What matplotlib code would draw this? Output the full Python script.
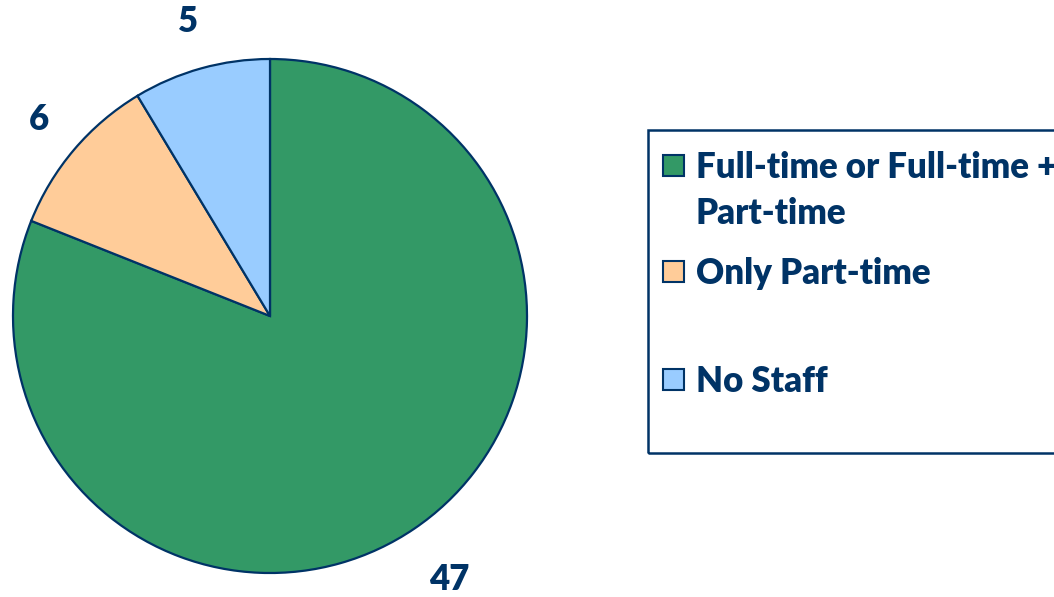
import numpy as np
import matplotlib.pyplot as plt
from matplotlib.patches import Rectangle

# staffing categories and counts
categories = ['Full-time or Full-time +\nPart-time', 'Only Part-time', 'No Staff']
counts = [47, 6, 5]
colors = ['#339966', '#FFCC99', '#99CCFF']
navy = '#003366'

W, H = 1054, 597
fig = plt.figure(figsize=(W / 100, H / 100), dpi=100)
plt.rcParams['font.family'] = ['Lato', 'DejaVu Sans']

# pie axes: centre (270, 316) px, radius 257 px
cx, cy, r = 270, 316, 257
ax = fig.add_axes([(cx - r) / W, (H - cy - r) / H, 2 * r / W, 2 * r / H])
total = sum(counts)
wedges, texts, autotexts = ax.pie(
    counts, colors=colors, startangle=90, counterclock=False,
    autopct=lambda p: '%d' % round(p * total / 100), pctdistance=1.2,
    wedgeprops=dict(edgecolor=navy, linewidth=1.6),
    textprops=dict(color=navy, fontsize=25, fontweight='heavy'))
ax.set_xlim(-1, 1)
ax.set_ylim(-1, 1)
ax.set_aspect('equal')

# value labels sit at slightly different distances in the original
dists = [1.24, 1.18, 1.19]
for w, t, d in zip(wedges, autotexts, dists):
    ang = np.deg2rad((w.theta1 + w.theta2) / 2)
    t.set_position((d * np.cos(ang), d * np.sin(ang)))
    t.set_clip_on(False)

# legend drawn by hand to follow the uneven spacing of the original
fig.patches.append(Rectangle((648 / W, (H - 453) / H), 500 / W, 323 / H,
                             transform=fig.transFigure, fill=False,
                             edgecolor=navy, linewidth=1.8))
baselines = [178, 284, 392]
line_h = 46
for lab, col, base in zip(categories, colors, baselines):
    fig.patches.append(Rectangle((663 / W, (H - base + 2) / H), 21 / W, 21 / H,
                                 transform=fig.transFigure, facecolor=col,
                                 edgecolor=navy, linewidth=1.5))
    for i, line in enumerate(lab.split('\n')):
        fig.text(696 / W, (H - base - i * line_h) / H, line, color=navy,
                 fontsize=25, fontweight='heavy', va='baseline', ha='left')

fig.savefig('out.png', dpi=100)
